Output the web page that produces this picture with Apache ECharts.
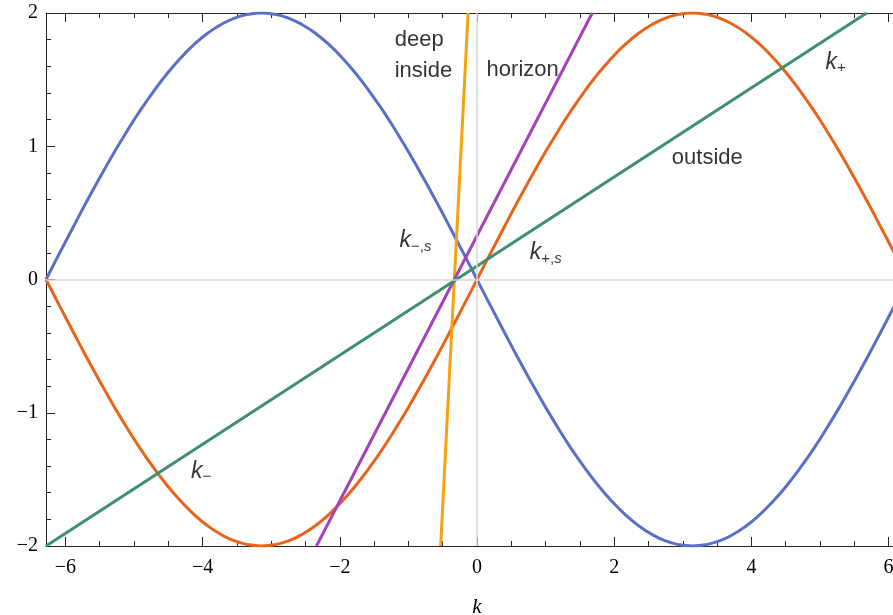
<!DOCTYPE html>
<html>
<head>
<meta charset="utf-8">
<title>Dispersion branches</title>
<script src="https://cdn.jsdelivr.net/npm/echarts@6/dist/echarts.min.js"></script>
<style>
  html, body { margin: 0; padding: 0; background: #ffffff; }
  #chart { width: 893px; height: 615px; }
</style>
</head>
<body>
<div id="chart"></div>
<script>
// Axis ranges and tick positions
const K_MIN = -6.283;
const K_MAX = 6.283;
const xMajorTicks = [-6, -4, -2, 0, 2, 4, 6];
const xMinorTicks = [-5.5, -5, -4.5, -3.5, -3, -2.5, -1.5, -1, -0.5,
                     0.5, 1, 1.5, 2.5, 3, 3.5, 4.5, 5, 5.5];

// Sample points along k for the two sinusoidal branches
const kSamples = [
  -6.283, -6.087, -5.890, -5.694, -5.498, -5.301, -5.105, -4.909,
  -4.712, -4.516, -4.320, -4.123, -3.927, -3.731, -3.534, -3.338,
  -3.142, -2.945, -2.749, -2.553, -2.356, -2.160, -1.963, -1.767,
  -1.571, -1.374, -1.178, -0.982, -0.785, -0.589, -0.393, -0.196,
  0,
  0.196, 0.393, 0.589, 0.785, 0.982, 1.178, 1.374, 1.571,
  1.767, 1.963, 2.160, 2.356, 2.553, 2.749, 2.945, 3.142,
  3.338, 3.534, 3.731, 3.927, 4.123, 4.320, 4.516, 4.712,
  4.909, 5.105, 5.301, 5.498, 5.694, 5.890, 6.087, 6.283
];

// Branch with the hump on the left (blue)
const branchMinus = [
  0, 0.196, 0.390, 0.581, 0.765, 0.943, 1.111, 1.269,
  1.414, 1.546, 1.663, 1.764, 1.848, 1.914, 1.962, 1.990,
  2.000, 1.990, 1.962, 1.914, 1.848, 1.764, 1.663, 1.546,
  1.414, 1.269, 1.111, 0.943, 0.765, 0.581, 0.390, 0.196,
  0,
  -0.196, -0.390, -0.581, -0.765, -0.943, -1.111, -1.269, -1.414,
  -1.546, -1.663, -1.764, -1.848, -1.914, -1.962, -1.990, -2.000,
  -1.990, -1.962, -1.914, -1.848, -1.764, -1.663, -1.546, -1.414,
  -1.269, -1.111, -0.943, -0.765, -0.581, -0.390, -0.196, 0
];

// Branch with the hump on the right (orange-red)
const branchPlus = [
  0, -0.196, -0.390, -0.581, -0.765, -0.943, -1.111, -1.269,
  -1.414, -1.546, -1.663, -1.764, -1.848, -1.914, -1.962, -1.990,
  -2.000, -1.990, -1.962, -1.914, -1.848, -1.764, -1.663, -1.546,
  -1.414, -1.269, -1.111, -0.943, -0.765, -0.581, -0.390, -0.196,
  0,
  0.196, 0.390, 0.581, 0.765, 0.943, 1.111, 1.269, 1.414,
  1.546, 1.663, 1.764, 1.848, 1.914, 1.962, 1.990, 2.000,
  1.990, 1.962, 1.914, 1.848, 1.764, 1.663, 1.546, 1.414,
  1.269, 1.111, 0.943, 0.765, 0.581, 0.390, 0.196, 0
];

// Straight lines: end points [k, value]
const lineDeep = [[-0.53, -2.0], [-0.13, 2.0]];
const lineHorizon = [[-2.34, -2.0], [1.68, 2.0]];
const lineOutside = [[-6.283, -2.0], [5.68, 2.0]];

// Text annotations placed in data coordinates (left edge, vertical middle)
const annotations = [
  { text: 'deep\ninside', k: -1.20, v: 1.683, kind: 'word' },
  { text: 'horizon',      k: 0.14,  v: 1.574, kind: 'word' },
  { text: 'outside',      k: 2.84,  v: 0.913, kind: 'word' },
  { text: '{k|k}{s|+}',   k: 5.08,  v: 1.626, kind: 'sym' },
  { text: '{k|k}{s|\u2212}', k: -4.17, v: -1.439, kind: 'sym' },
  { text: '{k|k}{s|\u2212,}{si|s}', k: -1.13, v: 0.289, kind: 'sym' },
  { text: '{k|k}{s|+,}{si|s}', k: 0.77,  v: 0.199, kind: 'sym' }
];

const COLORS = {
  minus: '#5b6fc7',
  plus: '#e8641b',
  deep: '#f5a20f',
  horizon: '#a244b8',
  outside: '#3f8e70'
};

const pair = (xs, ys) => xs.map((x, i) => [x, ys[i]]);
const minusFmt = v => String(v).replace('-', '\u2212');

const tickFont = { fontFamily: 'Liberation Serif', fontSize: 20, color: '#000' };
const frameLine = { show: true, onZero: false, lineStyle: { color: '#222', width: 1 } };

function xAxisDef(position, ticks, len, labels) {
  return {
    type: 'value', min: K_MIN, max: K_MAX, position: position,
    axisLine: len > 6 ? frameLine : { show: false, onZero: false },
    axisTick: { show: true, inside: true, length: len, customValues: ticks,
                lineStyle: { color: '#222', width: 1 } },
    axisLabel: labels
      ? Object.assign({ show: true, customValues: ticks, margin: 12, formatter: minusFmt }, tickFont)
      : { show: false },
    splitLine: { show: false },
    minorTick: { show: false }
  };
}

function yAxisDef(position, labels) {
  return {
    type: 'value', min: -2, max: 2, interval: 1, position: position,
    axisLine: frameLine,
    axisTick: { show: true, inside: true, length: 9, lineStyle: { color: '#222', width: 1 } },
    minorTick: { show: true, splitNumber: 5, length: 5, lineStyle: { color: '#222', width: 1 } },
    axisLabel: labels
      ? Object.assign({ show: true, margin: 8, formatter: minusFmt }, tickFont)
      : { show: false },
    splitLine: { show: false }
  };
}

const bottomMain = xAxisDef('bottom', xMajorTicks, 9, true);
bottomMain.name = 'k';
bottomMain.nameLocation = 'middle';
bottomMain.nameGap = 61;
bottomMain.nameTextStyle = { fontFamily: 'Liberation Serif', fontStyle: 'italic', fontSize: 21,
                             color: '#000', verticalAlign: 'middle' };

const lineSeries = (name, data, color, smooth) => ({
  name: name, type: 'line', data: data, smooth: smooth, showSymbol: false,
  symbol: 'none', clip: true, z: 3,
  lineStyle: { color: color, width: 3 }, silent: true
});

const subStyle = { fontFamily: 'Liberation Sans', fontSize: 15, color: '#000',
                   verticalAlign: 'bottom', padding: [8, 0, 0, 0] };

const option = {
  backgroundColor: '#ffffff',
  animation: false,
  grid: { left: 46, right: -15, top: 13, bottom: 69, containLabel: false, outerBoundsMode: 'none' },
  xAxis: [
    bottomMain,
    xAxisDef('bottom', xMinorTicks, 5, false),
    xAxisDef('top', xMajorTicks, 9, false),
    xAxisDef('top', xMinorTicks, 5, false)
  ],
  yAxis: [yAxisDef('left', true), yAxisDef('right', false)],
  series: [
    {
      name: 'zero', type: 'line', data: [], z: 1, silent: true,
      markLine: {
        silent: true, symbol: 'none', label: { show: false },
        lineStyle: { color: '#d6d6d6', width: 1.5, type: 'solid' },
        data: [{ xAxis: 0 }, { yAxis: 0 }]
      }
    },
    lineSeries('branchMinus', pair(kSamples, branchMinus), COLORS.minus, true),
    lineSeries('branchPlus', pair(kSamples, branchPlus), COLORS.plus, true),
    lineSeries('deep', lineDeep, COLORS.deep, false),
    lineSeries('horizon', lineHorizon, COLORS.horizon, false),
    lineSeries('outside', lineOutside, COLORS.outside, false),
    {
      name: 'labels', type: 'scatter', symbolSize: 0, z: 5, silent: true,
      data: annotations.map(a => ({
        value: [a.k, a.v],
        label: {
          show: true, position: 'right', distance: 0, align: 'left', verticalAlign: 'middle',
          formatter: a.text,
          fontFamily: 'Liberation Sans', fontSize: 22, color: '#000',
          textBorderWidth: 0,
          lineHeight: a.kind === 'word' ? 31 : 26,
          rich: {
            k: { fontFamily: 'Liberation Sans', fontStyle: 'italic', fontSize: 23, color: '#000' },
            s: subStyle,
            si: Object.assign({}, subStyle, { fontStyle: 'italic' })
          }
        }
      }))
    }
  ]
};

const chart = echarts.init(document.getElementById('chart'), null, { renderer: 'canvas' });
chart.setOption(option);
</script>
</body>
</html>
